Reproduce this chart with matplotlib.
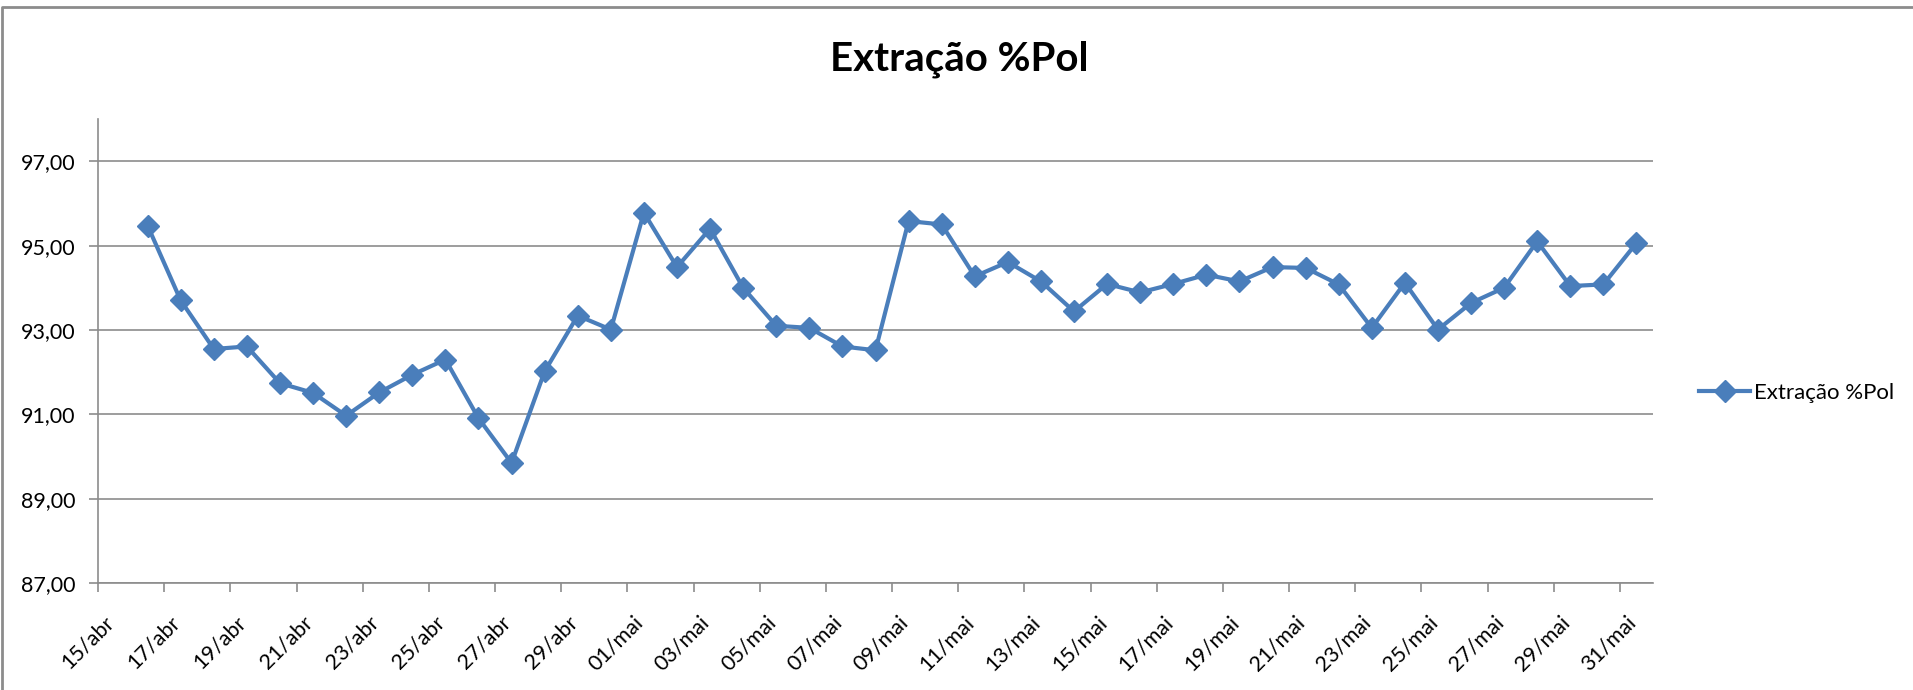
import numpy as np
import matplotlib
matplotlib.use("Agg")
import matplotlib.pyplot as plt
import matplotlib.dates as mdates
from matplotlib.lines import Line2D
from matplotlib.transforms import ScaledTranslation
import pandas as pd

# daily values, 16/abr to 31/mai
start_day = "2013-04-16"
extracao = [95.47, 93.70, 92.55, 92.61, 91.74, 91.51, 90.97, 91.52, 91.94, 92.30,
            90.91, 89.85, 92.02, 93.34, 93.01, 95.78, 94.49, 95.40, 94.00, 93.10,
            93.05, 92.61, 92.52, 95.58, 95.50, 94.27, 94.61, 94.15, 93.44, 94.09,
            93.89, 94.09, 94.31, 94.15, 94.49, 94.47, 94.08, 93.05, 94.12, 93.01,
            93.64, 94.00, 95.10, 94.04, 94.08, 95.06]

tick_labels = ["15/abr", "17/abr", "19/abr", "21/abr", "23/abr", "25/abr",
               "27/abr", "29/abr", "01/mai", "03/mai", "05/mai", "07/mai",
               "09/mai", "11/mai", "13/mai", "15/mai", "17/mai", "19/mai",
               "21/mai", "23/mai", "25/mai", "27/mai", "29/mai", "31/mai"]
y_ticks = [87, 89, 91, 93, 95, 97]

plt.rcParams['font.family'] = ['Lato', 'DejaVu Sans']

blue = '#4A7EBB'
gray = '#8C8C8C'

days = pd.date_range(start_day, periods=len(extracao), freq="D")
x = mdates.date2num(days) + 0.5   # points sit in the middle of each day
tick_days = pd.date_range("2013-04-15", periods=len(tick_labels), freq="2D")
x_ticks = mdates.date2num(tick_days)

fig = plt.figure(figsize=(19.13, 6.901), dpi=100)
ax = fig.add_axes([98/1913, 1-583.3/690, (1653-98)/1913, (583.3-119)/690])

ax.plot(x, extracao, color=blue, lw=3.0, marker='D', ms=11.5,
        mfc=blue, mec=blue, label='Extração %Pol')

ax.set_ylim(87, 98)
ax.set_yticks(y_ticks)
ax.set_yticklabels([f"{v:.2f}".replace('.', ',') for v in y_ticks])
ax.set_xlim(mdates.date2num(pd.Timestamp("2013-04-15")),
            mdates.date2num(pd.Timestamp("2013-06-01")))
ax.set_xticks(x_ticks)
ax.set_xticklabels(tick_labels, rotation=45, ha='right', va='top')

ax.grid(axis='y', color=gray, lw=1.2)
ax.set_axisbelow(True)
for s in ['top', 'right']:
    ax.spines[s].set_visible(False)
for s in ['left', 'bottom']:
    ax.spines[s].set_color(gray)
    ax.spines[s].set_linewidth(1.2)
ax.tick_params(axis='both', color=gray, length=6.5, width=1.2, labelsize=15.5)
ax.tick_params(axis='y', pad=10)

# shift date labels so they hang like Excel's
off = ScaledTranslation(0.20, -0.15, fig.dpi_scale_trans)
for lab in ax.get_xticklabels():
    lab.set_transform(lab.get_transform() + off)

fig.text(959/1913, 1-59/690, 'Extração %Pol', ha='center', va='center',
         fontsize=29, fontweight='bold')

fig.legend(loc='center left', bbox_to_anchor=(1688/1913, 1-393/690),
           frameon=False, fontsize=16, handlelength=2.3, handletextpad=0.15,
           borderpad=0)

# outer chart frame (only top and left are visible in the crop)
fig.add_artist(Line2D([0.0008, 0.0008, 1.0], [0.0, 1-7/690, 1-7/690],
                      transform=fig.transFigure, color=gray, lw=2))

fig.savefig('out.png', dpi=100)
